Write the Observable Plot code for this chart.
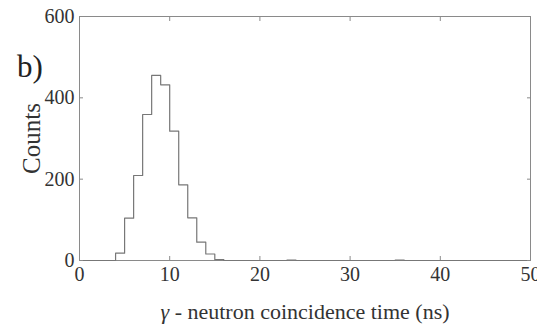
<!DOCTYPE html>
<html><head><meta charset="utf-8">
<script src="https://cdn.jsdelivr.net/npm/d3@7"></script>
<script src="https://cdn.jsdelivr.net/npm/@observablehq/plot@0.6"></script>
<style>
body{margin:0;background:#fff;}
#wrap{position:relative;width:537px;height:326px;}
#wrap svg, #wrap svg text{font-family:"Liberation Serif","Times New Roman",serif !important;}
#panel{position:absolute;left:17px;top:49px;font-family:"Liberation Serif",serif;font-size:31px;color:#222;}
</style></head><body>
<div id="wrap"><div id="panel">b)</div></div>
<script>
// 1-ns bins, start of each bin (ns)
const binStart = d3.range(0, 50);
const counts = [0,0,0,0,18,104,209,359,455,432,318,186,105,45,16,2,0,0,0,0,0,0,0,1,0,0,0,0,0,0,0,0,0,0,0,1,0,0,0,0,0,0,0,0,0,0,0,0,0,0];
const xTicks = [0,10,20,30,40,50];
const yTicks = [0,200,400,600];

const edges = binStart.map((s,i)=>({t:s,c:counts[i]}));
edges.push({t:50,c:counts[counts.length-1]});

const axisColor = "#8a8a8a";
const font = "'Liberation Serif', serif";
const chart = Plot.plot({
  width:537, height:326,
  marginLeft:79, marginRight:7, marginTop:16, marginBottom:66,
  style:{fontFamily:font, fontSize:"20px", color:"#333", background:"#fff"},
  x:{domain:[0,50]},
  y:{domain:[0,600]},
  marks:[
    Plot.frame({stroke:axisColor}),
    Plot.lineY(edges,{x:"t",y:"c",curve:"step-after",stroke:"#777",strokeWidth:1.2}),
    Plot.axisX(xTicks,{anchor:"bottom",tickSize:-4,stroke:axisColor,tickPadding:10,fontFamily:font,label:null,fill:"#333"}),
    Plot.axisX({anchor:"bottom",ticks:[],tickSize:0,label:"γ - neutron coincidence time (ns)",labelAnchor:"center",labelOffset:58,fontSize:22,fontFamily:font,fill:"#333"}),
    Plot.axisX(xTicks,{anchor:"top",tickSize:-4,stroke:axisColor,tickFormat:()=>"",label:null}),
    Plot.axisY(yTicks,{anchor:"left",tickSize:-4,stroke:axisColor,tickPadding:9,fontFamily:font,label:null,fill:"#333"}),
    Plot.axisY({anchor:"left",ticks:[],tickSize:0,label:"Counts",labelAnchor:"center",labelOffset:57,fontSize:25,fontFamily:font,fill:"#333"}),
    Plot.axisY(yTicks,{anchor:"right",tickSize:-4,stroke:axisColor,tickFormat:()=>"",label:null})
  ]
});
document.getElementById("wrap").prepend(chart);
d3.select(chart).selectAll("text").each(function(){
  const t=d3.select(this);
  let s=t.text();
  if(/[→↑←↓]/.test(s)){ s=s.replace(/\s*[→↑←↓]\s*/g,"").trim(); t.text(s); }
  if(s.startsWith("γ -")){
    t.text("");
    t.append("tspan").attr("font-style","italic").text("γ");
    t.append("tspan").text(s.slice(1));
  }
});
</script></body></html>
